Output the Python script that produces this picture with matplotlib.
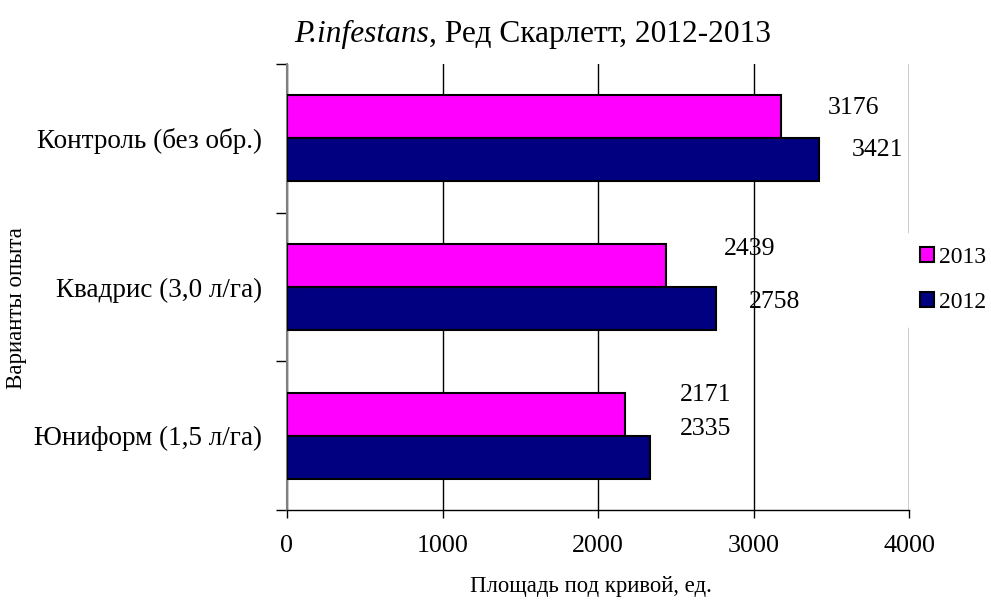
import matplotlib
matplotlib.use("Agg")
import matplotlib.pyplot as plt
from matplotlib.patches import Patch
import numpy as np

plt.rcParams['font.family'] = ['Liberation Serif', 'DejaVu Serif']

categories = ["Контроль (без обр.)", "Квадрис (3,0 л/га)", "Юниформ (1,5 л/га)"]
values_2013 = [3176, 2439, 2171]
values_2012 = [3421, 2758, 2335]
series_names = ["2013", "2012"]
x_ticks = [0, 1000, 2000, 3000, 4000]

# label offsets (points) for the value annotations
offsets_2013 = [(52, 6), (60, 12), (58, 14)]
offsets_2012 = [(42, 7), (42, 5), (40, 20)]

color_2013 = "#FF00FF"
color_2012 = "#000080"

fig = plt.figure(figsize=(9.91, 6.02), dpi=100)
ax = fig.add_axes([0.2896, 0.1528, 0.9173 - 0.2896, 0.8937 - 0.1528])

y = np.arange(len(categories))
h = 0.29
ax.barh(y - h / 2, values_2013, height=h, color=color_2013, edgecolor="black",
        linewidth=1.5, zorder=3, label=series_names[0])
ax.barh(y + h / 2, values_2012, height=h, color=color_2012, edgecolor="black",
        linewidth=1.5, zorder=3, label=series_names[1])

for i in range(len(categories)):
    ax.annotate(str(values_2013[i]), (values_2013[i], y[i] - h / 2),
                xytext=offsets_2013[i], textcoords="offset points",
                ha="center", va="center", fontsize=18.5, zorder=4)
    ax.annotate(str(values_2012[i]), (values_2012[i], y[i] + h / 2),
                xytext=offsets_2012[i], textcoords="offset points",
                ha="center", va="center", fontsize=18.5, zorder=4)

ax.set_xlim(0, 4000)
ax.set_ylim(len(categories) - 0.5, -0.5)
ax.set_xticks(x_ticks)
ax.set_xticklabels([str(t) for t in x_ticks], fontsize=18.7)
ax.xaxis.grid(True, color="black", linewidth=1.0, zorder=0)
ax.set_axisbelow(True)
ax.tick_params(axis="x", direction="out", length=6, width=1.0, color="black", pad=12)

ax.set_yticks(y)
ax.set_yticklabels(categories, fontsize=19.5)
ax.set_yticks(np.arange(-0.5, len(categories)), minor=True)
ax.tick_params(axis="y", which="major", length=0, pad=18)
ax.tick_params(axis="y", which="minor", direction="out", length=8, width=1.0, color="black")

for s in ["top", "right"]:
    ax.spines[s].set_visible(False)
ax.spines["left"].set_color("#808080")
ax.spines["left"].set_linewidth(1.5)
ax.spines["bottom"].set_color("black")
ax.spines["bottom"].set_linewidth(1.0)

ax.set_xlabel("Площадь под кривой, ед.", fontsize=16.4, va="center")
ax.xaxis.set_label_coords((591 - 287) / 622, -(586 - 510) / 446)
ax.set_ylabel("Варианты опыта", fontsize=16.5, va="center")
ax.yaxis.set_label_coords(-(287 - 17) / 622, (510 - 308) / 446)

fig.text(0.4325, 0.943, "P.infestans", fontsize=22.6, fontstyle="italic", ha="right", va="center")
fig.text(0.4325, 0.943, ", Ред Скарлетт, 2012-2013", fontsize=22.6, ha="left", va="center")

handles = [Patch(facecolor=color_2013, edgecolor="black", linewidth=1.5),
           Patch(facecolor=color_2012, edgecolor="black", linewidth=1.5)]
leg = fig.legend(handles, series_names, loc="center left", bbox_to_anchor=(0.902, 0.535),
                 fontsize=17, frameon=True, handlelength=0.6, handleheight=0.6,
                 handletextpad=0.2, labelspacing=1.0, borderpad=0.6)
leg.get_frame().set_facecolor("white")
leg.get_frame().set_edgecolor("white")
leg.get_frame().set_alpha(1.0)
leg.set_zorder(10)

fig.savefig("out.png", dpi=100)
